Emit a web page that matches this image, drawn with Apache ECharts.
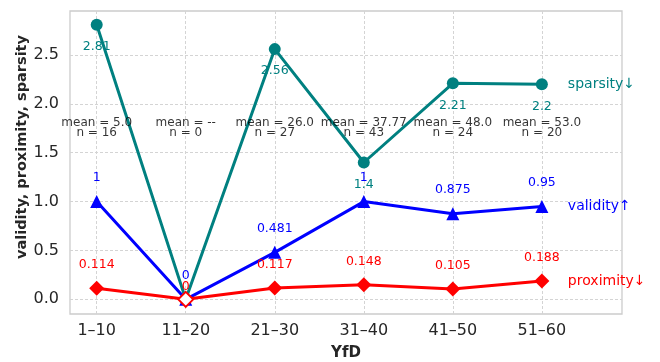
<!DOCTYPE html>
<html>
<head>
<meta charset="utf-8">
<style>
  html, body { margin: 0; padding: 0; background: #fff; }
  #chart { width: 660px; height: 362px; }
</style>
<script src="https://cdn.jsdelivr.net/npm/echarts@6/dist/echarts.min.js"></script>
</head>
<body>
<div id="chart"></div>
<script>
// Age groups (years from diagnosis)
const categories = ['1–10', '11–20', '21–30', '31–40', '41–50', '51–60'];

// Metric values per group
const sparsity  = [2.81, 0, 2.56, 1.4, 2.21, 2.2];
const validity  = [1, 0, 0.481, 1, 0.875, 0.95];
const proximity = [0.114, 0, 0.117, 0.148, 0.105, 0.188];

// Group statistics shown above the curves
const groupMeans  = ['5.0', '--', '26.0', '37.77', '48.0', '53.0'];
const groupCounts = [16, 0, 27, 43, 24, 20];

// Metric names and y tick values
const metricNames = ['sparsity↓', 'validity↑', 'proximity↓'];
const yTicks = [0, 0.5, 1.0, 1.5, 2.0, 2.5];

const FONT = 'DejaVu Sans';
const EMPTY_GROUP = 1;       // group with no samples
const STATS_Y = 1.753;       // vertical anchor of the statistics text

function pts(values) {
  return values.map((v, i) => [i, v]);
}

const gridLine = { show: true, lineStyle: { color: '#d4d4d4', width: 1, type: [3, 2] } };

const option = {
  animation: false,
  backgroundColor: '#ffffff',
  grid: {
    left: 70, right: 38, top: 11, bottom: 48,
    outerBoundsMode: 'none',
    containLabel: false,
    show: true, borderColor: '#cccccc', borderWidth: 1.3
  },
  xAxis: {
    type: 'value',
    min: -0.3, max: 5.9,
    name: 'YfD',
    nameLocation: 'middle',
    nameGap: 32,
    nameTextStyle: { fontFamily: FONT, fontSize: 15, fontWeight: 'bold', color: '#262626' },
    axisLine: { show: false },
    axisTick: { show: false, customValues: categories.map((c, i) => i) },
    axisLabel: {
      customValues: categories.map((c, i) => i),
      formatter: v => categories[Math.round(v)],
      fontFamily: FONT, fontSize: 16, color: '#262626', margin: 9
    },
    splitLine: gridLine
  },
  yAxis: {
    type: 'value',
    min: -0.15, max: 2.95,
    axisLine: { show: false },
    axisTick: { show: false, customValues: yTicks },
    axisLabel: {
      customValues: yTicks,
      formatter: v => v.toFixed(1),
      fontFamily: FONT, fontSize: 16, color: '#262626', margin: 11
    },
    splitLine: gridLine
  },
  graphic: [{
    type: 'text',
    x: 22, y: 147,
    rotation: Math.PI / 2,
    style: {
      text: 'validity, proximity, sparsity',
      fontFamily: FONT, fontSize: 14.5, fontWeight: 'bold', fill: '#262626',
      align: 'center', verticalAlign: 'middle'
    }
  }],
  series: [
    {
      name: metricNames[0],
      type: 'line',
      data: pts(sparsity).map((p, i) => i === EMPTY_GROUP ? { value: p, symbol: 'none' } : p),
      color: '#008080',
      lineStyle: { width: 3, color: '#008080' },
      symbol: 'circle', symbolSize: 12,
      itemStyle: { color: '#008080' },
      label: {
        show: true, position: 'inside', offset: [0, 22],
        formatter: p => String(p.value[1]),
        fontFamily: FONT, fontSize: 12.5, color: '#008080'
      },
      endLabel: {
        show: true, formatter: metricNames[0], distance: 26,
        fontFamily: FONT, fontSize: 14, color: '#008080'
      },
      z: 2
    },
    {
      name: metricNames[1],
      type: 'line',
      data: pts(validity),
      color: '#0000ff',
      lineStyle: { width: 3, color: '#0000ff' },
      symbol: 'triangle', symbolSize: 13,
      itemStyle: { color: '#0000ff' },
      label: {
        show: true, position: 'inside', offset: [0, -24],
        formatter: p => String(p.value[1]),
        fontFamily: FONT, fontSize: 12.5, color: '#0000ff'
      },
      endLabel: {
        show: true, formatter: metricNames[1], distance: 26,
        fontFamily: FONT, fontSize: 14, color: '#0000ff'
      },
      z: 3
    },
    {
      name: metricNames[2],
      type: 'line',
      data: pts(proximity).map((p, i) => i === EMPTY_GROUP ? {
        value: p,
        itemStyle: { color: '#ffffff', borderColor: '#ff0000', borderWidth: 2 },
        label: { offset: [0, -13] }
      } : p),
      color: '#ff0000',
      lineStyle: { width: 3, color: '#ff0000' },
      symbol: 'diamond', symbolSize: 15,
      itemStyle: { color: '#ff0000' },
      label: {
        show: true, position: 'inside', offset: [0, -23],
        formatter: p => String(p.value[1]),
        fontFamily: FONT, fontSize: 12.5, color: '#ff0000'
      },
      endLabel: {
        show: true, formatter: metricNames[2], distance: 26,
        fontFamily: FONT, fontSize: 14, color: '#ff0000'
      },
      z: 4
    },
    {
      name: 'stats',
      type: 'scatter',
      data: categories.map((c, i) => [i, STATS_Y]),
      symbolSize: 0,
      label: {
        show: true, position: 'inside',
        formatter: p => 'mean = ' + groupMeans[p.dataIndex] + '\nn = ' + groupCounts[p.dataIndex],
        fontFamily: FONT, fontSize: 12, color: '#000000', lineHeight: 9.5
      },
      z: 5
    }
  ]
};

const chart = echarts.init(document.getElementById('chart'), null, { renderer: 'canvas' });
chart.setOption(option);
</script>
</body>
</html>
